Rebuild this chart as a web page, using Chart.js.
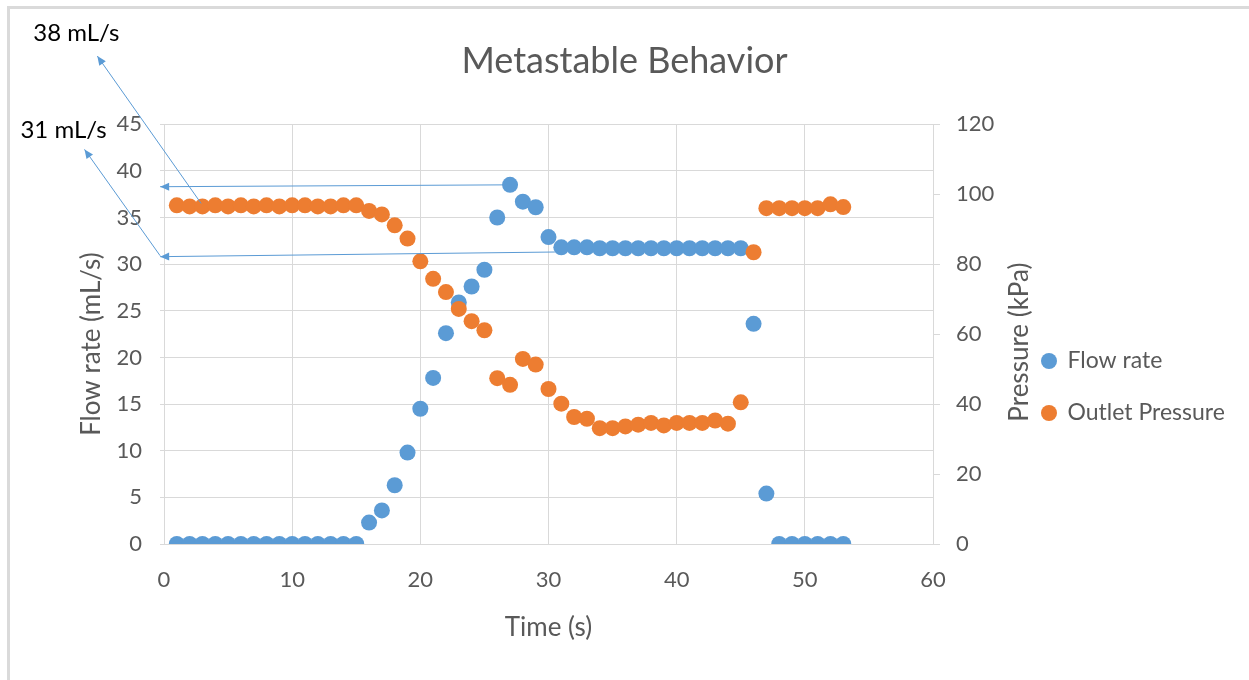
<!DOCTYPE html>
<html>
<head>
<meta charset="utf-8">
<title>Metastable Behavior</title>
<script src="https://cdn.jsdelivr.net/npm/chart.js@4.4.1/dist/chart.umd.min.js"></script>
<style>
  html, body { margin: 0; padding: 0; background: #ffffff; }
  canvas { display: block; }
</style>
</head>
<body>
<canvas id="myChart" width="1249" height="680"></canvas>
<script>
// time (s)
let tiempo = [1, 2, 3, 4, 5, 6, 7, 8, 9, 10, 11, 12, 13, 14, 15, 16, 17, 18, 19, 20,
    21, 22, 23, 24, 25, 26, 27, 28, 29, 30, 31, 32, 33, 34, 35, 36, 37, 38, 39, 40,
    41, 42, 43, 44, 45, 46, 47, 48, 49, 50, 51, 52, 53];

// flow rate (mL/s)
let caudal = [0, 0, 0, 0, 0, 0, 0, 0, 0, 0, 0, 0, 0, 0, 0, 2.3, 3.6, 6.3, 9.8, 14.5,
    17.8, 22.6, 25.9, 27.6, 29.4, 35.0, 38.5, 36.7, 36.1, 32.9, 31.8, 31.8, 31.8, 31.7, 31.7, 31.7, 31.7, 31.7, 31.7, 31.7,
    31.7, 31.7, 31.7, 31.7, 31.7, 23.6, 5.4, 0, 0, 0, 0, 0, 0];

// outlet pressure (kPa)
let presion = [96.8, 96.5, 96.5, 96.8, 96.5, 96.8, 96.5, 96.8, 96.5, 96.8, 96.8, 96.5, 96.5, 96.8, 96.8, 95.2, 94.2, 91.1, 87.3, 80.8,
    75.8, 72.0, 67.2, 63.7, 61.1, 47.4, 45.5, 52.9, 51.3, 44.3, 40.1, 36.3, 35.8, 33.1, 33.1, 33.6, 34.1, 34.6, 33.9, 34.6,
    34.6, 34.6, 35.3, 34.4, 40.5, 83.4, 96.0, 96.0, 96.0, 96.0, 96.0, 97.1, 96.3];

let ticksX = [0, 10, 20, 30, 40, 50, 60];
let ticksCaudal = [0, 5, 10, 15, 20, 25, 30, 35, 40, 45];
let ticksPresion = [0, 20, 40, 60, 80, 100, 120];

// callouts, in data units of x / flow rate axes
let notas = [
    { texto: "38 mL/s", en: [-10.2, 54.7] },
    { texto: "31 mL/s", en: [-11.2, 44.4] }
];
let flechas = [
    { desde: [2.9, 36.5], hasta: [-5.2, 52.3] },
    { desde: [-0.3, 30.9], hasta: [-6.2, 42.3] },
    { desde: [27.0, 38.5], hasta: [-0.3, 38.3] },
    { desde: [30.5, 31.3], hasta: [-0.3, 30.8] }
];

let gris = "#595959";
let rejilla = "#d9d9d9";
let azul = "#5B9BD5";
let naranja = "#ED7D31";

Chart.defaults.font.family = "Lato";
Chart.defaults.color = gris;

let puntosCaudal = [];
let puntosPresion = [];
for (let i = 0; i < tiempo.length; i++) {
    puntosCaudal.push({ x: tiempo[i], y: caudal[i] });
    puntosPresion.push({ x: tiempo[i], y: presion[i] });
}

function flecha(ctx, x1, y1, x2, y2) {
    ctx.beginPath();
    ctx.moveTo(x1, y1);
    ctx.lineTo(x2, y2);
    ctx.stroke();
    let ang = Math.atan2(y2 - y1, x2 - x1);
    let largo = 9, ancho = 4;
    ctx.beginPath();
    ctx.moveTo(x2, y2);
    ctx.lineTo(x2 - largo * Math.cos(ang) + ancho * Math.sin(ang), y2 - largo * Math.sin(ang) - ancho * Math.cos(ang));
    ctx.lineTo(x2 - largo * Math.cos(ang) - ancho * Math.sin(ang), y2 - largo * Math.sin(ang) + ancho * Math.cos(ang));
    ctx.closePath();
    ctx.fill();
}

function tituloVertical(ctx, texto, x, y) {
    ctx.save();
    ctx.translate(x, y);
    ctx.rotate(-Math.PI / 2);
    ctx.font = "26px Lato";
    ctx.fillStyle = gris;
    ctx.textAlign = "center";
    ctx.textBaseline = "middle";
    ctx.fillText(texto, 0, 0);
    ctx.restore();
}

let extras = {
    id: "extras",
    beforeInit(chart) {
        let fit = chart.legend.fit;
        chart.legend.fit = function () {
            fit.call(this);
            this.width = 236;
        };
    },
    afterLayout(chart) {
        chart.legend.top += 47;
        chart.legend.bottom += 47;
    },
    beforeDraw(chart) {
        let ctx = chart.ctx;
        ctx.save();
        ctx.fillStyle = "#ffffff";
        ctx.fillRect(0, 0, chart.width, chart.height);
        ctx.strokeStyle = "#dadada";
        ctx.lineWidth = 3;
        ctx.beginPath();
        ctx.moveTo(8.5, chart.height);
        ctx.lineTo(8.5, 7.5);
        ctx.lineTo(chart.width, 7.5);
        ctx.stroke();
        ctx.restore();
    },
    afterDraw(chart) {
        let ctx = chart.ctx;
        let sx = chart.scales.x;
        let sy = chart.scales.y;
        let area = chart.chartArea;
        let medio = (area.top + area.bottom) / 2;

        // axis titles, reading bottom to top as in the original
        tituloVertical(ctx, "Flow rate (mL/s)", 92, medio + 10);
        tituloVertical(ctx, "Pressure (kPa)", 1020, medio + 8);

        ctx.save();
        ctx.strokeStyle = azul;
        ctx.fillStyle = azul;
        ctx.lineWidth = 1;
        for (let f of flechas) {
            flecha(ctx,
                sx.getPixelForValue(f.desde[0]), sy.getPixelForValue(f.desde[1]),
                sx.getPixelForValue(f.hasta[0]), sy.getPixelForValue(f.hasta[1]));
        }
        ctx.fillStyle = "#000000";
        ctx.font = "24px Lato";
        ctx.textAlign = "left";
        ctx.textBaseline = "middle";
        for (let n of notas) {
            ctx.fillText(n.texto, sx.getPixelForValue(n.en[0]), sy.getPixelForValue(n.en[1]));
        }
        ctx.restore();
    }
};

let grafica = document.getElementById("myChart");

new Chart(grafica, {
    type: "scatter",
    data: {
        datasets: [
            {
                label: "Flow rate",
                data: puntosCaudal,
                yAxisID: "y",
                backgroundColor: azul,
                borderColor: azul,
                borderWidth: 0,
                pointRadius: 8,
                pointHoverRadius: 8,
                order: 2
            },
            {
                label: "Outlet Pressure",
                data: puntosPresion,
                yAxisID: "y1",
                backgroundColor: naranja,
                borderColor: naranja,
                borderWidth: 0,
                pointRadius: 8,
                pointHoverRadius: 8,
                order: 1
            }
        ]
    },
    options: {
        responsive: false,
        maintainAspectRatio: false,
        animation: false,
        devicePixelRatio: 1,
        layout: { padding: 0 },
        plugins: {
            title: {
                display: true,
                text: "Metastable Behavior",
                color: gris,
                font: { size: 36, weight: "normal" },
                padding: { top: 40, bottom: 41 }
            },
            legend: {
                position: "right",
                labels: {
                    usePointStyle: true,
                    pointStyle: "circle",
                    boxWidth: 14,
                    boxHeight: 11.3,
                    padding: 29,
                    color: gris,
                    font: { size: 23 },
                    sort: (a, b) => a.datasetIndex - b.datasetIndex
                }
            },
            tooltip: { enabled: false }
        },
        scales: {
            x: {
                type: "linear",
                min: 0,
                max: 60,
                afterBuildTicks: (scale) => { scale.ticks = ticksX.map(v => ({ value: v })); },
                afterFit: (scale) => { scale.height = 136; },
                grid: { color: rejilla, drawTicks: false },
                border: { color: rejilla },
                ticks: { padding: 23, color: gris, font: { size: 22 } },
                title: {
                    display: true,
                    text: "Time (s)",
                    color: gris,
                    font: { size: 26 },
                    padding: { top: 0, bottom: 37 }
                }
            },
            y: {
                position: "left",
                min: 0,
                max: 45,
                afterBuildTicks: (scale) => { scale.ticks = ticksCaudal.map(v => ({ value: v })); },
                afterFit: (scale) => { scale.width = 164; },
                grid: { color: rejilla, tickLength: 4 },
                border: { color: rejilla },
                ticks: { padding: 18, color: gris, font: { size: 22 } }
            },
            y1: {
                position: "right",
                min: 0,
                max: 120,
                afterBuildTicks: (scale) => { scale.ticks = ticksPresion.map(v => ({ value: v })); },
                afterFit: (scale) => { scale.width = 80; },
                grid: { color: rejilla, drawOnChartArea: false, tickLength: 7 },
                border: { color: rejilla },
                ticks: { padding: 16, color: gris, font: { size: 22 } }
            }
        }
    },
    plugins: [extras]
});
</script>
</body>
</html>
